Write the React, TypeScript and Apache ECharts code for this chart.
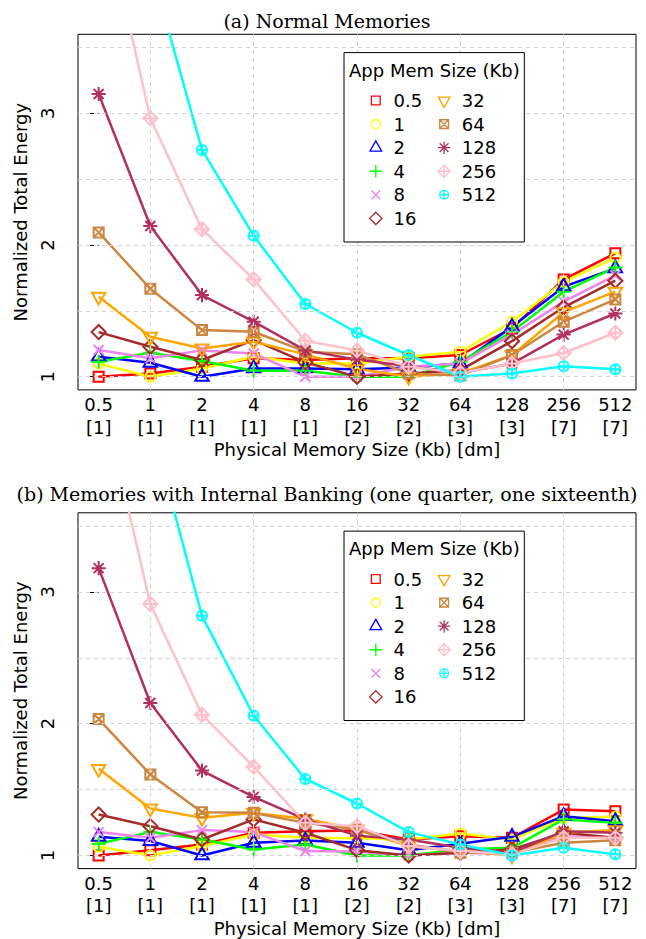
import React, { useEffect, useRef } from 'react';
import * as echarts from 'echarts';

// ---------- data ----------
const physSizes = ['0.5', '1', '2', '4', '8', '16', '32', '64', '128', '256', '512'];
const dmCounts = ['1', '1', '1', '1', '1', '2', '2', '3', '3', '7', '7'];
const appSizes = ['0.5', '1', '2', '4', '8', '16', '32', '64', '128', '256', '512'];
const yTickValues = [1, 2, 3];
const yGridValues = [1, 1.5, 2, 2.5, 3, 3.5];
const xGridValues = [1, 3, 5, 7, 9];

// (a) Normal Memories
const normal_0_5 = [1.0, 1.025, 1.076, 1.14, 1.127, 1.14, 1.14, 1.165, 1.367, 1.739, 1.937];
const normal_1 = [1.1, 1.0, 1.063, 1.152, 1.1, 1.1, 1.152, 1.19, 1.418, 1.72, 1.904];
const normal_2 = [1.152, 1.106, 1.0, 1.063, 1.063, 1.056, 1.07, 1.1, 1.38, 1.684, 1.823];
const normal_4 = [1.114, 1.182, 1.12, 1.046, 1.046, 1.0, 1.0, 1.114, 1.342, 1.646, 1.83];
const normal_8 = [1.203, 1.14, 1.2, 1.177, 1.0, 1.0, 1.076, 1.1, 1.32, 1.57, 1.77];
const normal_16 = [1.339, 1.228, 1.127, 1.278, 1.109, 1.0, 1.025, 1.05, 1.27, 1.527, 1.729];
const normal_32 = [1.608, 1.304, 1.215, 1.266, 1.17, 1.06, 1.0, 1.025, 1.165, 1.49, 1.646];
const normal_64 = [2.096, 1.668, 1.354, 1.342, 1.19, 1.17, 1.025, 1.01, 1.165, 1.418, 1.587];
const normal_128 = [3.147, 2.144, 1.62, 1.418, 1.2, 1.13, 1.08, 1.03, 1.1, 1.32, 1.48];
const normal_256 = [4.7, 2.962, 2.12, 1.739, 1.273, 1.2, 1.076, 1.03, 1.1, 1.18, 1.334];
const normal_512 = [6.0, 4.12, 2.722, 2.071, 1.552, 1.334, 1.165, 1.0, 1.025, 1.08, 1.056];

// (b) Memories with Internal Banking
const banked_0_5 = [1.0, 1.04, 1.083, 1.172, 1.184, 1.19, 1.121, 1.146, 1.134, 1.348, 1.336];
const banked_1 = [1.066, 1.0, 1.071, 1.159, 1.134, 1.13, 1.12, 1.167, 1.121, 1.285, 1.293];
const banked_2 = [1.141, 1.109, 1.0, 1.096, 1.114, 1.096, 1.04, 1.088, 1.141, 1.298, 1.26];
const banked_4 = [1.088, 1.177, 1.121, 1.045, 1.083, 1.0, 1.0, 1.045, 1.058, 1.273, 1.247];
const banked_8 = [1.177, 1.134, 1.192, 1.177, 1.033, 1.03, 1.0, 1.02, 1.01, 1.146, 1.134];
const banked_16 = [1.31, 1.222, 1.121, 1.273, 1.172, 1.04, 1.0, 1.02, 1.045, 1.172, 1.134];
const banked_32 = [1.657, 1.356, 1.285, 1.323, 1.278, 1.197, 1.07, 1.033, 1.0, 1.172, 1.192];
const banked_64 = [2.035, 1.614, 1.328, 1.323, 1.247, 1.197, 1.083, 1.02, 1.02, 1.096, 1.116];
const banked_128 = [3.18, 2.157, 1.644, 1.444, 1.273, 1.15, 1.121, 1.058, 1.02, 1.184, 1.172];
const banked_256 = [4.6, 2.907, 2.068, 1.672, 1.247, 1.222, 1.071, 1.033, 1.008, 1.134, 1.134];
const banked_512 = [6.0, 4.29, 2.818, 2.06, 1.58, 1.394, 1.177, 1.083, 1.0, 1.058, 1.008];

const normalSeries = [normal_0_5, normal_1, normal_2, normal_4, normal_8, normal_16, normal_32, normal_64, normal_128, normal_256, normal_512];
const bankedSeries = [banked_0_5, banked_1, banked_2, banked_4, banked_8, banked_16, banked_32, banked_64, banked_128, banked_256, banked_512];

const colors = ['#FF0000', '#FFFF00', '#0000FF', '#00FF00', '#EE82EE', '#A52A2A', '#FFA500', '#CD853F', '#B03060', '#FFC0CB', '#00FFFF'];

// ---------- symbols (R pch 0..10) in a 16x16 box ----------
const BOX = 'M0 0M16 16';
const SQ = 'M3 3L13 3L13 13L3 13Z';
const CI = 'M3 8A5 5 0 1 1 13 8A5 5 0 1 1 3 8Z';
const PL = 'M8 0.93L8 15.07M0.93 8L15.07 8';
const XX = 'M3 3L13 13M13 3L3 13';
const DI = 'M8 0.93L15.07 8L8 15.07L0.93 8Z';
const symbolPaths = [
  SQ,
  CI,
  'M8 0.2L14.7 11.9L1.3 11.9Z',
  PL,
  XX,
  DI,
  'M1.3 4.1L14.7 4.1L8 15.8Z',
  SQ + XX,
  XX + PL,
  DI + PL,
  CI + 'M8 3L8 13M3 8L13 8',
].map((p) => 'path://' + BOX + p);

const FONT = 'DejaVu Sans';
const SERIF = 'DejaVu Serif';

const GRID_LEFT = 78;
const GRID_W = 558;
const gridTops = [34.3, 512.8];
const gridHeights = [355.6, 356.4];

export default function App() {
  const ref = useRef<HTMLDivElement>(null);

  useEffect(() => {
    if (!ref.current) return;
    const chart = echarts.init(ref.current, null, { renderer: 'svg' });

    const grids = gridTops.map((top, g) => ({
      left: GRID_LEFT,
      top,
      width: GRID_W,
      height: gridHeights[g],
      show: true,
      borderColor: '#000',
      borderWidth: 1,
      backgroundColor: 'transparent',
    }));

    const xAxes = [0, 1].map((g) => ({
      type: 'value',
      gridIndex: g,
      min: -0.4,
      max: 10.4,
      axisLine: { show: false },
      axisTick: { show: false },
      splitLine: { show: false },
      axisLabel: {
        customValues: physSizes.map((_, i) => i),
        formatter: (v: number) => {
          const i = Math.round(v);
          return physSizes[i] + '\n[' + dmCounts[i] + ']';
        },
        fontFamily: FONT,
        fontSize: 18,
        color: '#000',
        lineHeight: 22.5,
        margin: 3.5,
      },
      name: 'Physical Memory Size (Kb) [dm]',
      nameLocation: 'middle',
      nameGap: 49,
      nameTextStyle: { fontFamily: FONT, fontSize: 18, color: '#000', lineHeight: 20 },
    }));

    const yAxes = [0, 1].map((g) => ({
      type: 'value',
      gridIndex: g,
      min: 0.9,
      max: 3.6,
      axisLine: { show: false },
      axisTick: {
        show: true,
        customValues: yTickValues,
        length: 11,
        inside: false,
        lineStyle: { color: '#000', width: 1 },
      },
      splitLine: { show: false },
      axisLabel: {
        customValues: yTickValues,
        rotate: 90,
        fontFamily: FONT,
        fontSize: 18,
        color: '#000',
        margin: 22,
      },
      name: 'Normalized Total Energy',
      nameLocation: 'middle',
      nameGap: 49,
      nameTextStyle: { fontFamily: FONT, fontSize: 18, color: '#000' },
    }));

    const series: any[] = [];
    [0, 1].forEach((g) => {
      series.push({
        type: 'line',
        name: '__grid' + g,
        xAxisIndex: g,
        yAxisIndex: g,
        data: [],
        z: 1,
        silent: true,
        markLine: {
          silent: true,
          symbol: 'none',
          label: { show: false },
          lineStyle: { color: '#D3D3D3', type: [4, 4], width: 1 },
          data: [
            ...xGridValues.map((v) => ({ xAxis: v })),
            ...yGridValues.map((v) => ({ yAxis: v })),
          ],
        },
      });
      const src = g === 0 ? normalSeries : bankedSeries;
      src.forEach((vals, k) => {
        series.push({
          type: 'line',
          name: appSizes[k],
          xAxisIndex: g,
          yAxisIndex: g,
          data: vals.map((v, i) => [i, v]),
          symbol: symbolPaths[k],
          symbolSize: 16,
          symbolKeepAspect: true,
          showAllSymbol: true,
          clip: true,
          z: 2,
          itemStyle: { color: 'none', borderColor: colors[k], borderWidth: 2 },
          lineStyle: { color: colors[k], width: 2.5 },
          emphasis: { disabled: true },
        });
      });
    });

    const legendData = appSizes.map((n, k) => ({
      name: n,
      icon: symbolPaths[k],
      itemStyle: { color: 'none', borderColor: colors[k], borderWidth: 1.3 },
    }));

    const legends: any[] = [];
    const graphics: any[] = [];
    gridTops.forEach((top) => {
      const base = {
        orient: 'vertical',
        itemWidth: 25.4,
        itemHeight: 14,
        itemGap: 0,
        padding: 0,
        z: 20,
        selectedMode: false,
        symbolKeepAspect: true,
        textStyle: { fontFamily: FONT, fontSize: 18, color: '#000', lineHeight: 23.56 },
      };
      legends.push({ ...base, left: 366.3, top: top + 54.5, data: legendData.slice(0, 6) });
      legends.push({ ...base, left: 434.6, top: top + 54.5, data: legendData.slice(6) });
      graphics.push({
        type: 'rect',
        z: 10,
        shape: { x: 344, y: top + 18.3, width: 180.3, height: 189.4 },
        style: { fill: '#fff', stroke: '#000', lineWidth: 1 },
      });
      graphics.push({
        type: 'text',
        z: 21,
        x: 349,
        y: top + 35.7,
        style: {
          text: 'App Mem Size (Kb)',
          fontFamily: FONT,
          fontSize: 18,
          fill: '#000',
          align: 'left',
          verticalAlign: 'middle',
        },
      });
    });
    graphics.push({
      type: 'text',
      x: 327,
      y: 21,
      style: { text: '(a) Normal Memories', fontFamily: SERIF, fontSize: 19, fill: '#000', align: 'center', verticalAlign: 'middle' },
    });
    graphics.push({
      type: 'text',
      x: 327,
      y: 494,
      style: {
        text: '(b) Memories with Internal Banking (one quarter, one sixteenth)',
        fontFamily: SERIF,
        fontSize: 19,
        fill: '#000',
        align: 'center',
        verticalAlign: 'middle',
      },
    });

    chart.setOption({
      animation: false,
      backgroundColor: '#fff',
      grid: grids,
      xAxis: xAxes,
      yAxis: yAxes,
      series,
      legend: legends,
      graphic: graphics,
    } as any);

    return () => chart.dispose();
  }, []);

  return (
    <div
      ref={ref}
      style={{ position: 'absolute', left: 0, top: 0, width: 646, height: 939 }}
    />
  );
}
